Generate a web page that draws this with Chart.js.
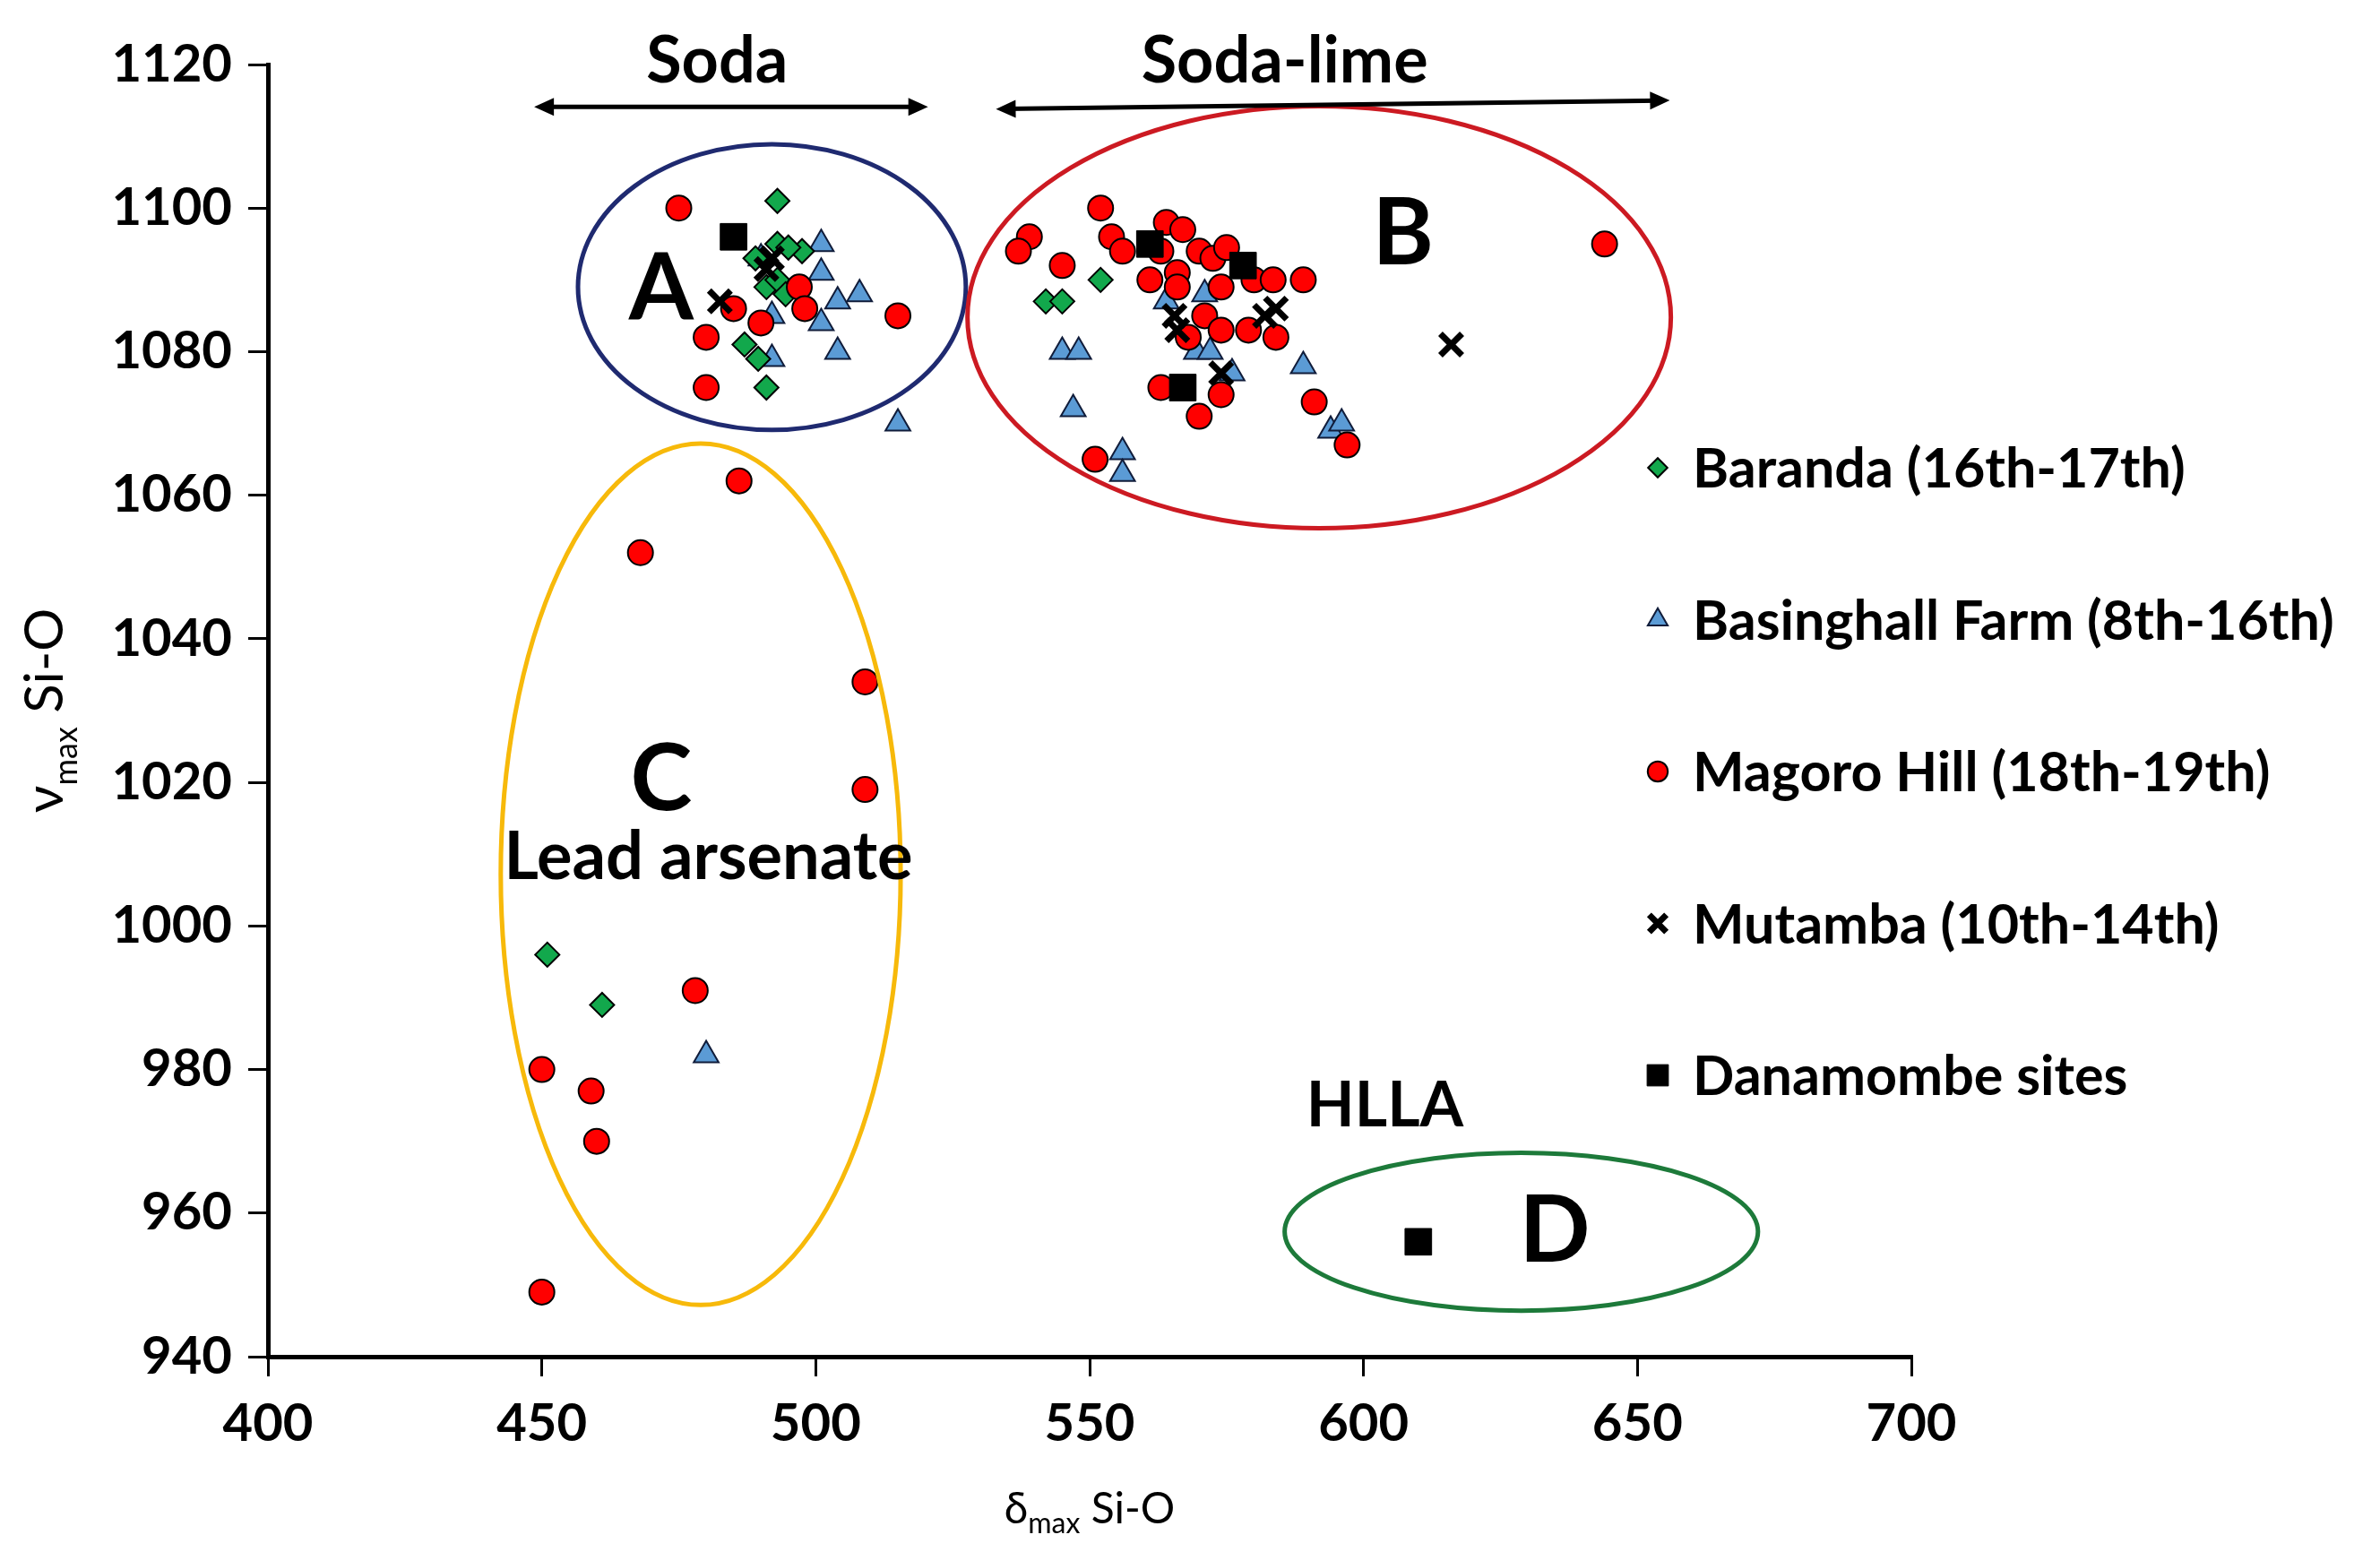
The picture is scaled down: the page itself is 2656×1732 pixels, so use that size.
<!DOCTYPE html>
<html>
<head>
<meta charset="utf-8">
<script src="https://cdn.jsdelivr.net/npm/chart.js"></script>
<style>
  html, body { margin: 0; padding: 0; background: #fff; }
  canvas { display: block; }
</style>
</head>
<body>
<canvas id="myChart" width="2656" height="1732"></canvas>
<script>
// values (delta max Si-O, nu max Si-O)
var barandaX = [493, 493, 497.5, 489, 491, 493, 494.5, 487, 489.5, 491, 495, 552, 542, 545, 451, 461];
var barandaY = [1101, 1095, 1094, 1093, 1089, 1090, 1088, 1081, 1079, 1075, 1094.5, 1090, 1087, 1087, 996, 989];

var basinghallX = [501, 501, 504, 508, 501, 504, 492, 492, 490, 515, 545, 548, 547, 556, 556, 571, 564, 569.5, 572, 576, 589, 594, 596, 480];
var basinghallY = [1095, 1091, 1087, 1088, 1084, 1080, 1079, 1085, 1093, 1070, 1080, 1080, 1072, 1066, 1063, 1088, 1087, 1080, 1080, 1077, 1078, 1069, 1070, 982];

var magoroX = [475, 485, 480, 480, 490, 497, 498, 515,
    552, 539, 537, 545, 554, 556, 564, 567, 563, 561, 566, 566, 570, 572.5, 575, 574, 580, 583.5, 589,
    571, 574, 579, 584, 568, 563, 574, 570, 591, 597, 551, 644,
    486, 468, 509, 509, 478, 450, 459, 460, 450];
var magoroY = [1100, 1086, 1082, 1075, 1084, 1089, 1086, 1085,
    1100, 1096, 1094, 1092, 1096, 1094, 1098, 1097, 1094, 1090, 1091, 1089, 1094, 1093, 1094.5, 1089, 1090, 1090, 1090,
    1085, 1083, 1083, 1082, 1082, 1075, 1074, 1071, 1073, 1067, 1065, 1095,
    1062, 1052, 1034, 1019, 991, 980, 977, 970, 949];

var mutambaX = [482.5, 491, 492, 565.5, 566, 584, 582, 574, 616];
var mutambaY = [1087, 1091.5, 1093, 1085, 1083, 1086, 1085, 1077, 1081];

var danamombeX = [485, 561, 578, 567, 610];
var danamombeY = [1096, 1095, 1092, 1075, 956];

var seriesLabels = ['Baranda (16th-17th)', 'Basinghall Farm (8th-16th)', 'Magoro Hill (18th-19th)', 'Mutamba (10th-14th)', 'Danamombe sites'];

var xTicks = [400, 450, 500, 550, 600, 650, 700];
var yTicks = [940, 960, 980, 1000, 1020, 1040, 1060, 1080, 1100, 1120];

// group outlines: centre x, centre y, radius x, radius y (data units)
var groupEllipses = [
    { cx: 492, cy: 1089, rx: 35.4, ry: 19.9, color: '#1f2a70' },
    { cx: 591.9, cy: 1084.8, rx: 64.2, ry: 29.4, color: '#cc1a22' },
    { cx: 479, cy: 1007.2, rx: 36.5, ry: 60, color: '#f7b90a' },
    { cx: 628.8, cy: 957.4, rx: 43.2, ry: 11, color: '#1d7a3a' }
];
var groupTexts = [
    { text: 'Soda', x: 482, y: 1117.5, size: 72 },
    { text: 'Soda-lime', x: 585.6, y: 1117.5, size: 72 },
    { text: 'A', x: 471.8, y: 1084.6, size: 104 },
    { text: 'B', x: 607.2, y: 1092.2, size: 104 },
    { text: 'C', x: 471.8, y: 1016.1, size: 104 },
    { text: 'Lead arsenate', x: 480.4, y: 1006.5, size: 74 },
    { text: 'HLLA', x: 603.9, y: 972.1, size: 70 },
    { text: 'D', x: 634.9, y: 953.2, size: 104 }
];
var groupArrows = [
    { x1: 448.6, y1: 1114.1, x2: 520.5, y2: 1114.1 },
    { x1: 532.9, y1: 1113.8, x2: 655.9, y2: 1115.0 }
];

function toPoints(xs, ys) {
    var pts = [];
    for (var i = 0; i < xs.length; i++) {
        pts.push({ x: xs[i], y: ys[i] });
    }
    return pts;
}

var font = 'Lato, "Open Sans", sans-serif';

function arrowHead(ctx, x, y, ang) {
    ctx.save();
    ctx.translate(x, y);
    ctx.rotate(ang);
    ctx.beginPath();
    ctx.moveTo(0, 0);
    ctx.lineTo(-22, -10);
    ctx.lineTo(-22, 10);
    ctx.closePath();
    ctx.fill();
    ctx.restore();
}

var extrasPlugin = {
    id: 'extras',
    afterDatasetsDraw: function (chart) {
        var ctx = chart.ctx;
        var xs = chart.scales.x, ys = chart.scales.y;
        ctx.save();
        // ellipses round the glass groups
        groupEllipses.forEach(function (e) {
            var cx = xs.getPixelForValue(e.cx), cy = ys.getPixelForValue(e.cy);
            var rx = Math.abs(xs.getPixelForValue(e.cx + e.rx) - cx);
            var ry = Math.abs(ys.getPixelForValue(e.cy + e.ry) - cy);
            ctx.beginPath();
            ctx.ellipse(cx, cy, rx, ry, 0, 0, Math.PI * 2);
            ctx.lineWidth = 5;
            ctx.strokeStyle = e.color;
            ctx.stroke();
        });
        // double arrows
        ctx.strokeStyle = '#000';
        ctx.fillStyle = '#000';
        groupArrows.forEach(function (a) {
            var x1 = xs.getPixelForValue(a.x1), y1 = ys.getPixelForValue(a.y1);
            var x2 = xs.getPixelForValue(a.x2), y2 = ys.getPixelForValue(a.y2);
            var ang = Math.atan2(y2 - y1, x2 - x1);
            ctx.beginPath();
            ctx.moveTo(x1 + 10 * Math.cos(ang), y1 + 10 * Math.sin(ang));
            ctx.lineTo(x2 - 10 * Math.cos(ang), y2 - 10 * Math.sin(ang));
            ctx.lineWidth = 5;
            ctx.stroke();
            arrowHead(ctx, x2, y2, ang);
            arrowHead(ctx, x1, y1, ang + Math.PI);
        });
        // labels
        ctx.textAlign = 'center';
        ctx.textBaseline = 'alphabetic';
        groupTexts.forEach(function (t) {
            ctx.font = 'bold ' + t.size + 'px ' + font;
            ctx.fillText(t.text, xs.getPixelForValue(t.x), ys.getPixelForValue(t.y));
        });
        ctx.restore();
    },
    afterDraw: function (chart) {
        var ctx = chart.ctx;
        var area = chart.chartArea;
        ctx.save();
        ctx.fillStyle = '#000';
        ctx.textBaseline = 'alphabetic';
        ctx.textAlign = 'left';

        // x title: delta_max Si-O
        var parts = [['\u03b4', 48, 0], ['max', 32, 11], [' Si-O', 48, 0]];
        drawParts(ctx, parts, (area.left + area.right) / 2, 1700);

        // y title: nu_max Si-O (rotated)
        ctx.save();
        ctx.translate(70, (area.top + area.bottom) / 2);
        ctx.rotate(-Math.PI / 2);
        drawParts(ctx, [['\u03bd', 60, 0], ['max', 36, 16], [' Si-O', 60, 0]], 0, 0);
        ctx.restore();

        // legend inside the plot, right side
        var lx = 1850, tx = 1889, top = 522, step = 169.5;
        chart.data.datasets.forEach(function (ds, i) {
            var cy = top + i * step;
            ctx.save();
            ctx.fillStyle = ds.backgroundColor;
            ctx.strokeStyle = ds.borderColor;
            ctx.lineWidth = ds.borderWidth;
            Chart.helpers.drawPoint(ctx, {
                pointStyle: ds.pointStyle,
                radius: ds.pointRadius * 0.8,
                rotation: 0,
                borderWidth: ds.borderWidth
            }, lx, cy);
            ctx.restore();
            ctx.font = 'bold 61px ' + font;
            ctx.fillStyle = '#000';
            ctx.fillText(ds.label, tx, cy + 22);
        });
        ctx.restore();
    }
};

function drawParts(ctx, parts, cx, baseY) {
    var w = 0;
    parts.forEach(function (p) {
        ctx.font = p[1] + 'px ' + font;
        w += ctx.measureText(p[0]).width;
    });
    var x = cx - w / 2;
    parts.forEach(function (p) {
        ctx.font = p[1] + 'px ' + font;
        ctx.fillText(p[0], x, baseY + p[2]);
        x += ctx.measureText(p[0]).width;
    });
}

var tickFont = { family: font, weight: 'bold', size: 58 };
var plainLabel = function (v) { return String(v); };

var ctx = document.getElementById('myChart').getContext('2d');
var myChart = new Chart(ctx, {
    type: 'scatter',
    data: {
        datasets: [{
            label: seriesLabels[0],
            data: toPoints(barandaX, barandaY),
            pointStyle: 'rectRot',
            pointRadius: 13.5,
            backgroundColor: '#12a84c',
            borderColor: '#000',
            borderWidth: 2,
            order: 4
        }, {
            label: seriesLabels[1],
            data: toPoints(basinghallX, basinghallY),
            pointStyle: 'triangle',
            pointRadius: 16,
            backgroundColor: '#5b9bd5',
            borderColor: '#101c3a',
            borderWidth: 2,
            order: 5
        }, {
            label: seriesLabels[2],
            data: toPoints(magoroX, magoroY),
            pointStyle: 'circle',
            pointRadius: 14,
            backgroundColor: '#ff0000',
            borderColor: '#000',
            borderWidth: 2,
            order: 3
        }, {
            label: seriesLabels[3],
            data: toPoints(mutambaX, mutambaY),
            pointStyle: 'crossRot',
            pointRadius: 17,
            backgroundColor: '#000',
            borderColor: '#000',
            borderWidth: 7,
            order: 2
        }, {
            label: seriesLabels[4],
            data: toPoints(danamombeX, danamombeY),
            pointStyle: 'rect',
            pointRadius: 21,
            backgroundColor: '#000',
            borderColor: '#000',
            borderWidth: 1,
            order: 1
        }]
    },
    options: {
        responsive: false,
        animation: false,
        events: [],
        layout: { padding: { top: 72, right: 523, left: 0, bottom: 0 } },
        plugins: {
            legend: { display: false },
            tooltip: { enabled: false }
        },
        scales: {
            x: {
                type: 'linear',
                min: xTicks[0],
                max: xTicks[xTicks.length - 1],
                afterBuildTicks: function (s) { s.ticks = xTicks.map(function (v) { return { value: v }; }); },
                afterFit: function (s) { s.height = 218; },
                ticks: { font: tickFont, color: '#000', padding: 18, maxRotation: 0, callback: plainLabel },
                grid: { drawOnChartArea: false, tickLength: 22, color: '#000', lineWidth: 3 },
                border: { color: '#000', width: 5 }
            },
            y: {
                type: 'linear',
                min: yTicks[0],
                max: yTicks[yTicks.length - 1],
                afterBuildTicks: function (s) { s.ticks = yTicks.map(function (v) { return { value: v }; }); },
                afterFit: function (s) { s.width = 299; },
                ticks: { font: tickFont, color: '#000', padding: 18, callback: plainLabel },
                grid: { drawOnChartArea: false, tickLength: 22, color: '#000', lineWidth: 3 },
                border: { color: '#000', width: 5 }
            }
        }
    },
    plugins: [extrasPlugin]
});
</script>
</body>
</html>
